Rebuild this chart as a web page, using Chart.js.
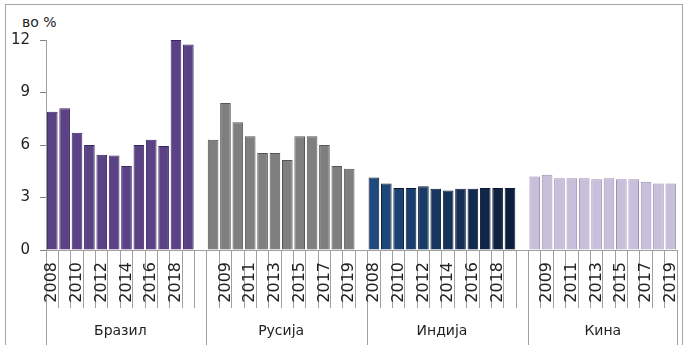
<!DOCTYPE html>
<html>
<head>
<meta charset="utf-8">
<script src="https://cdn.jsdelivr.net/npm/chart.js@4/dist/chart.umd.min.js"></script>
<style>
  body { margin: 0; background: #fff; }
  #wrap { position: relative; width: 685px; height: 345px; }
  #frame { position: absolute; left: 5px; top: 4px; width: 676px; height: 360px; border: 1px solid #a6a6a6; }
  #unit { position: absolute; left: 22px; top: 14px; font: 14px "DejaVu Sans", sans-serif; color: #222; }
  canvas { position: absolute; left: 0; top: 0; }
</style>
</head>
<body>
<div id="wrap">
  <div id="frame"></div>
  <div id="unit">во %</div>
  <canvas id="chart" width="685" height="345"></canvas>
</div>
<script>
const groups = ['Бразил', 'Русија', 'Индија', 'Кина'];
const years = ['2008', '2009', '2010', '2011', '2012', '2013', '2014', '2015', '2016', '2017', '2018', '2019'];
const yTicks = [0, 3, 6, 9, 12];

const brazil = [7.9, 8.1, 6.7, 6.0, 5.45, 5.4, 4.8, 6.0, 6.3, 5.95, 12.0, 11.75];
const russia = [6.3, 8.4, 7.3, 6.5, 5.55, 5.55, 5.15, 6.5, 6.5, 6.0, 4.8, 4.65];
const india = [4.15, 3.8, 3.55, 3.55, 3.65, 3.5, 3.4, 3.5, 3.5, 3.55, 3.55, 3.55];
const china = [4.2, 4.3, 4.1, 4.1, 4.1, 4.05, 4.1, 4.05, 4.05, 3.9, 3.8, 3.8];

const series = [brazil, russia, india, china];

// one slot per year, plus an empty slot between groups
let labels = [];
let starts = [];
groups.forEach((g, gi) => {
  if (gi > 0) labels.push('');
  starts.push(labels.length);
  years.forEach(y => labels.push(y));
});

const fills = ['#5b4185', '#7f7f7f', null, '#c8bfdb'];
const edges = ['#3b2760', '#555555', '#0b1a33', '#9a90b4'];

function indiaColor(ctx) {
  const k = (ctx.dataIndex - starts[2]) / (years.length - 1);
  const a = [31, 74, 128], b = [13, 30, 60];
  const c = a.map((v, i) => Math.round(v + (b[i] - v) * k));
  return 'rgb(' + c.join(',') + ')';
}

const datasets = series.map((vals, gi) => {
  const data = labels.map(() => null);
  vals.forEach((v, i) => { data[starts[gi] + i] = v; });
  return {
    label: groups[gi],
    data: data,
    grouped: false,
    backgroundColor: fills[gi] || indiaColor,
    borderColor: edges[gi],
    borderWidth: 1,
    barPercentage: 0.86,
    categoryPercentage: 1
  };
});

// group boundaries and centres for the second x axis
let groupTicks = [];
let groupNames = {};
groups.forEach((g, gi) => {
  groupTicks.push(starts[gi] - 0.5);
  const mid = starts[gi] + (years.length - 1) / 2;
  groupTicks.push(mid);
  groupNames[mid] = g;
});
groupTicks.push(labels.length - 0.5);

const font = '"DejaVu Sans", sans-serif';

new Chart(document.getElementById('chart').getContext('2d'), {
  type: 'bar',
  data: { labels: labels, datasets: datasets },
  options: {
    responsive: false,
    animation: false,
    layout: { padding: { left: 1, right: 8, top: 40, bottom: 0 } },
    plugins: { legend: { display: false }, tooltip: { enabled: false } },
    scales: {
      x: {
        type: 'category',
        offset: true,
        grid: { offset: true, drawOnChartArea: false, color: '#a0a0a0', tickLength: 58 },
        border: { color: '#a0a0a0' },
        ticks: {
          autoSkip: false,
          minRotation: 90,
          maxRotation: 90,
          padding: -46,
          color: '#222',
          font: { family: font, size: 16 },
          callback: (v, i) => (i % 2 === 0 ? labels[i] : '')
        },
        afterFit: s => { s.height = 58; }
      },
      x2: {
        type: 'linear',
        position: 'bottom',
        offset: false,
        min: -0.5,
        max: labels.length - 0.5,
        afterBuildTicks: s => { s.ticks = groupTicks.map(v => ({ value: v })); },
        grid: {
          offset: false,
          drawOnChartArea: false,
          tickLength: 40,
          color: ctx => (ctx.tick && groupNames[ctx.tick.value] ? 'rgba(0,0,0,0)' : '#a0a0a0')
        },
        border: { display: false },
        ticks: {
          autoSkip: false,
          minRotation: 0,
          maxRotation: 0,
          padding: -25,
          color: '#222',
          font: { family: font, size: 14 },
          callback: v => groupNames[v] || ''
        },
        afterFit: s => { s.height = 37; }
      },
      y: {
        min: 0,
        max: 12,
        afterBuildTicks: s => { s.ticks = yTicks.map(v => ({ value: v })); },
        grid: { drawOnChartArea: false, color: '#808080', tickLength: 6 },
        border: { color: '#a0a0a0' },
        ticks: { padding: 10, color: '#222', font: { family: font, size: 15 } }
      }
    }
  }
});
</script>
</body>
</html>
